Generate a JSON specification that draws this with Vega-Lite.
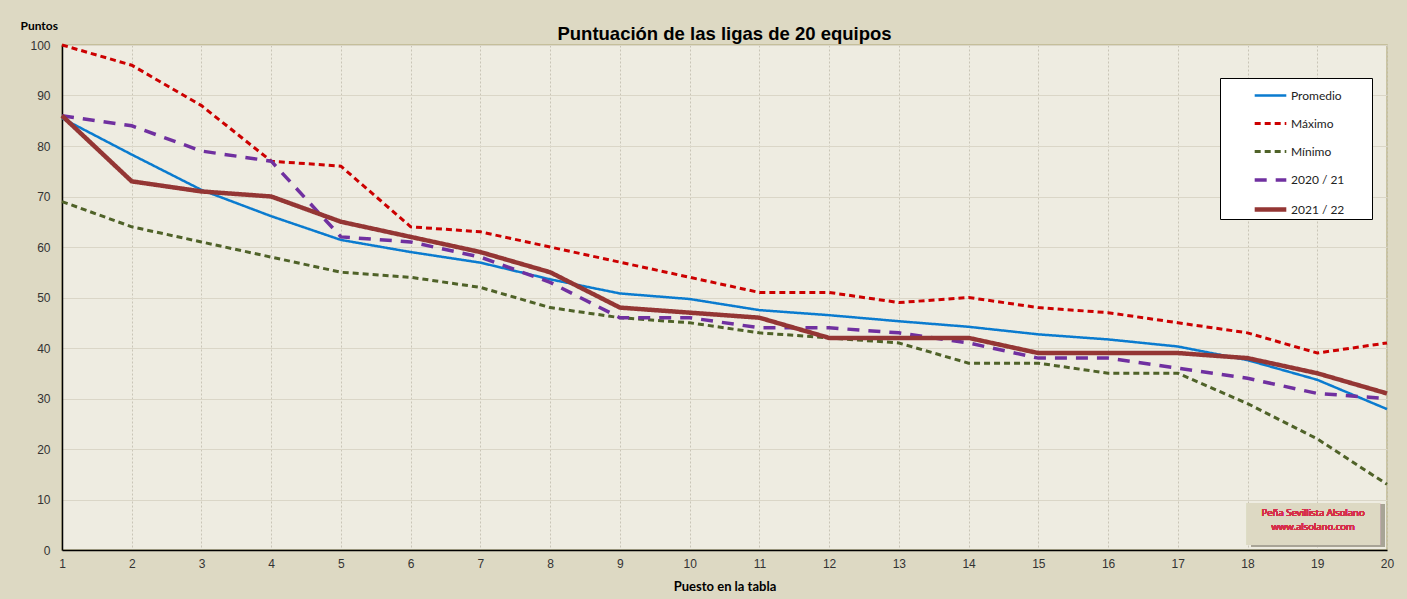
{
  "$schema": "https://vega.github.io/schema/vega-lite/v6.json",
  "autosize": "none",
  "width": 1325,
  "height": 505,
  "padding": {"left": 62, "top": 45, "right": 20, "bottom": 49},
  "background": "#DDD9C3",
  "config": {
    "view": {"fill": "#EEECE1", "stroke": "#BDB78F", "strokeWidth": 1.5},
    "font": "Liberation Sans"
  },
  "title": {
    "text": "Puntuación de las ligas de 20 equipos",
    "fontSize": 18.5,
    "fontWeight": "bold",
    "font": "Liberation Sans",
    "color": "#000000",
    "anchor": "middle",
    "offset": -24
  },
  "data": {
    "values": [
      {"puesto": 1, "Promedio": 85.5, "Máximo": 100, "Mínimo": 69, "2020 / 21": 86, "2021 / 22": 86},
      {"puesto": 2, "Promedio": 78.3, "Máximo": 96, "Mínimo": 64, "2020 / 21": 84, "2021 / 22": 73},
      {"puesto": 3, "Promedio": 71.3, "Máximo": 88, "Mínimo": 61, "2020 / 21": 79, "2021 / 22": 71},
      {"puesto": 4, "Promedio": 66.1, "Máximo": 77, "Mínimo": 58, "2020 / 21": 77, "2021 / 22": 70},
      {"puesto": 5, "Promedio": 61.4, "Máximo": 76, "Mínimo": 55, "2020 / 21": 62, "2021 / 22": 65},
      {"puesto": 6, "Promedio": 59, "Máximo": 64, "Mínimo": 54, "2020 / 21": 61, "2021 / 22": 62},
      {"puesto": 7, "Promedio": 56.9, "Máximo": 63, "Mínimo": 52, "2020 / 21": 58, "2021 / 22": 59},
      {"puesto": 8, "Promedio": 53.6, "Máximo": 60, "Mínimo": 48, "2020 / 21": 53, "2021 / 22": 55},
      {"puesto": 9, "Promedio": 50.8, "Máximo": 57, "Mínimo": 46, "2020 / 21": 46, "2021 / 22": 48},
      {"puesto": 10, "Promedio": 49.7, "Máximo": 54, "Mínimo": 45, "2020 / 21": 46, "2021 / 22": 47},
      {"puesto": 11, "Promedio": 47.5, "Máximo": 51, "Mínimo": 43, "2020 / 21": 44, "2021 / 22": 46},
      {"puesto": 12, "Promedio": 46.5, "Máximo": 51, "Mínimo": 42, "2020 / 21": 44, "2021 / 22": 42},
      {"puesto": 13, "Promedio": 45.3, "Máximo": 49, "Mínimo": 41, "2020 / 21": 43, "2021 / 22": 42},
      {"puesto": 14, "Promedio": 44.2, "Máximo": 50, "Mínimo": 37, "2020 / 21": 41, "2021 / 22": 42},
      {"puesto": 15, "Promedio": 42.7, "Máximo": 48, "Mínimo": 37, "2020 / 21": 38, "2021 / 22": 39},
      {"puesto": 16, "Promedio": 41.7, "Máximo": 47, "Mínimo": 35, "2020 / 21": 38, "2021 / 22": 39},
      {"puesto": 17, "Promedio": 40.3, "Máximo": 45, "Mínimo": 35, "2020 / 21": 36, "2021 / 22": 39},
      {"puesto": 18, "Promedio": 37.6, "Máximo": 43, "Mínimo": 29, "2020 / 21": 34, "2021 / 22": 38},
      {"puesto": 19, "Promedio": 33.7, "Máximo": 39, "Mínimo": 22, "2020 / 21": 31, "2021 / 22": 35},
      {"puesto": 20, "Promedio": 27.9, "Máximo": 41, "Mínimo": 13, "2020 / 21": 30, "2021 / 22": 31}
    ]
  },
  "layer": [
    {
      "transform": [
        {"fold": ["Promedio", "Máximo", "Mínimo", "2020 / 21", "2021 / 22"], "as": ["serie", "puntos"]}
      ],
      "mark": {"type": "line", "clip": false},
      "encoding": {
        "x": {
          "field": "puesto",
          "type": "quantitative",
          "scale": {"domain": [1, 20], "nice": false, "zero": false},
          "axis": {
            "title": "Puesto en la tabla",
            "titleFont": "Lato",
            "titleFontSize": 13,
            "titleFontWeight": "bold",
            "titleColor": "#000000",
            "titlePadding": 11,
            "values": [1,2,3,4,5,6,7,8,9,10,11,12,13,14,15,16,17,18,19,20],
            "format": "d",
            "labelFontSize": 12,
            "labelColor": "#333333",
            "labelPadding": 8,
            "labelFlush": false,
            "ticks": false,
            "domainColor": "#000000",
            "domainWidth": 1.5,
            "grid": true,
            "gridColor": "#C9C5B6",
            "gridDash": [2, 2],
            "gridWidth": 1
          }
        },
        "y": {
          "field": "puntos",
          "type": "quantitative",
          "scale": {"domain": [0, 100], "nice": false},
          "axis": {
            "title": "Puntos",
            "titleAngle": 0,
            "titleFont": "Lato",
            "titleFontSize": 12,
            "titleFontWeight": "bold",
            "titleColor": "#000000",
            "titleX": -42,
            "titleY": -20,
            "titleAlign": "left",
            "titleBaseline": "middle",
            "values": [0,10,20,30,40,50,60,70,80,90,100],
            "labelFontSize": 12,
            "labelColor": "#333333",
            "labelPadding": 12,
            "labelFlush": false,
            "ticks": false,
            "domainColor": "#000000",
            "domainWidth": 1.5,
            "grid": true,
            "gridColor": "#DAD6C7",
            "gridWidth": 1
          }
        },
        "color": {
          "field": "serie",
          "type": "nominal",
          "scale": {
            "domain": ["Promedio", "Máximo", "Mínimo", "2020 / 21", "2021 / 22"],
            "range": ["#0A7BCF", "#CC0000", "#4F6228", "#7030A0", "#943634"]
          },
          "legend": {
            "title": "\u00a0",
            "titleOrient": "right",
            "titlePadding": 28,
            "titleFontSize": 12,
            "orient": "none",
            "legendX": 1158,
            "legendY": 33,
            "direction": "vertical",
            "fillColor": "#FFFFFF",
            "strokeColor": "#000000",
            "padding": 0,
            "symbolType": "stroke",
            "symbolSize": 1000,
            "symbolOffset": 32,
            "rowPadding": 4,
            "labelFont": "Lato",
            "labelFontSize": 12,
            "labelColor": "#222222",
            "labelOffset": 2
          }
        },
        "strokeDash": {
          "field": "serie",
          "type": "nominal",
          "scale": {
            "domain": ["Promedio", "Máximo", "Mínimo", "2020 / 21", "2021 / 22"],
            "range": [[1, 0], [6, 4], [6, 4], [12, 9], [1, 0]]
          }
        },
        "strokeWidth": {
          "field": "serie",
          "type": "nominal",
          "scale": {
            "type": "ordinal",
            "domain": ["Promedio", "Máximo", "Mínimo", "2020 / 21", "2021 / 22"],
            "range": [2.5, 3, 3, 3.5, 4.5]
          }
        }
      }
    },
    {
      "mark": {"type": "rect", "fill": "#A8A496", "opacity": 0.7},
      "encoding": {
        "x": {"datum": 18.06},
        "x2": {"datum": 19.97},
        "y": {"datum": 9.0},
        "y2": {"datum": 0.6}
      }
    },
    {
      "mark": {"type": "rect", "fill": "#DDD9C3"},
      "encoding": {
        "x": {"datum": 17.99},
        "x2": {"datum": 19.9},
        "y": {"datum": 9.3},
        "y2": {"datum": 1.0}
      }
    },
    {
      "mark": {
        "type": "text",
        "font": "Open Sans",
        "fontSize": 9.5,
        "fontWeight": "normal",
        "color": "#D6304A",
        "align": "center",
        "baseline": "middle",
        "lineBreak": "\n",
        "lineHeight": 14
      },
      "encoding": {
        "x": {"datum": 18.94},
        "y": {"datum": 7.3},
        "text": {"value": "Peña Sevillista Alsolano\nwww.alsolano.com"}
      }
    }
  ]
}
